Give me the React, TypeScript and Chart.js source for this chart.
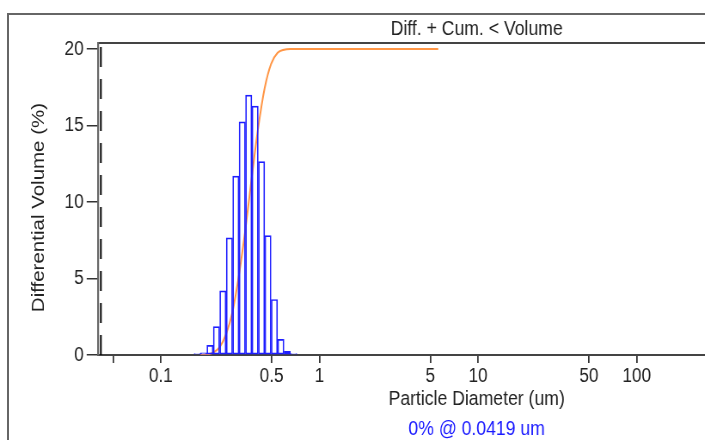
import React, { useEffect, useRef } from "react";
import { Chart, registerables } from "chart.js";

Chart.register(...registerables);

// ---- data ----
// LS channel edges (um) around the peak
const binEdges = [0.162, 0.178, 0.195, 0.214, 0.235, 0.258, 0.284, 0.311, 0.342, 0.375, 0.412, 0.452, 0.496, 0.545, 0.598, 0.657, 0.721];
// differential volume (%) for each channel
const diffVolume = [0, 0.15, 0.63, 1.86, 4.19, 7.66, 11.7, 15.25, 17.0, 16.28, 12.65, 7.81, 3.63, 1.03, 0.24, 0];
// cumulative < volume (%) at channel upper sizes
const cumSizes = [0.178, 0.195, 0.214, 0.235, 0.258, 0.284, 0.311, 0.342, 0.375, 0.412, 0.452, 0.496, 0.545, 0.598, 0.657, 5.611];
const cumVolume = [0, 0.15, 0.8, 2.6, 6.8, 14.5, 26.2, 41.4, 58.4, 74.7, 87.4, 95.2, 98.8, 99.8, 100, 100];

const xTickValues = [0.05, 0.1, 0.5, 1, 5, 10, 50, 100, 500, 1000];
const xTickLabels = ["", "0.1", "0.5", "1", "5", "10", "50", "100", "500", "1000"];
const yTickValues = [0, 5, 10, 15, 20];

const cursorSize = 0.0419;
const cursorText = "0% @ 0.0419 um";

const xMin = 0.04;
const xMax = 2400;
const yMin = 0;
const yMax = 20.4;
const cumMax = 102;

// the reference is horizontally squeezed: draw wide, show narrow
const K = 0.86;
const W = 1012;
const H = 440;
const font = "'Liberation Sans', Arial, sans-serif";

export default function App() {
  const ref = useRef<HTMLCanvasElement>(null);

  useEffect(() => {
    const canvas = ref.current;
    if (!canvas) return;
    const barData = diffVolume.map((v, i) => ({ x: Math.sqrt(binEdges[i] * binEdges[i + 1]), y: v }));
    const cumData = cumSizes.map((x, i) => ({ x, y: cumVolume[i] }));
    const cursorData = [
      { x: cursorSize, y: yMin },
      { x: cursorSize, y: yMax },
    ];

    const padLeft = 39 / K - 12.3;
    const yWidth = 97.7 / K - padLeft;
    const padRight = W - 856 / K;

    const chart = new Chart(canvas, {
      type: "bar",
      data: {
        datasets: [
          {
            type: "bar",
            label: "Diff",
            data: barData as any,
            xAxisID: "x",
            yAxisID: "y",
            borderColor: "#1e1eff",
            borderWidth: 1.05,
            backgroundColor: "rgba(255,255,255,0)",
            borderSkipped: false,
            minBarLength: 1.5,
            categoryPercentage: 1,
            barPercentage: 1,
            order: 0,
          } as any,
          {
            type: "line",
            label: "Cum",
            data: cumData as any,
            xAxisID: "x",
            yAxisID: "yCum",
            borderColor: "rgb(255,150,70)",
            borderWidth: 2,
            pointRadius: 0,
            cubicInterpolationMode: "monotone",
            fill: false,
            order: 1,
          } as any,
          {
            type: "line",
            label: "Cursor",
            data: cursorData as any,
            xAxisID: "x",
            yAxisID: "y",
            borderColor: "#000",
            borderWidth: 2,
            borderDash: [20, 12],
            pointRadius: 0,
            fill: false,
            order: 2,
          } as any,
        ],
      },
      options: {
        animation: false,
        responsive: false,
        devicePixelRatio: 1,
        layout: { padding: { left: padLeft, right: padRight, top: 0, bottom: 0 } },
        plugins: {
          legend: { display: false },
          tooltip: { enabled: false },
          title: { display: false },
        },
        scales: {
          x: {
            type: "logarithmic",
            position: "bottom",
            weight: 0,
            min: xMin,
            max: xMax,
            offset: false,
            afterBuildTicks: (s: any) => {
              s.ticks = xTickValues.map((v) => ({ value: v }));
            },
            ticks: {
              callback: (_v: any, i: number) => xTickLabels[i],
              autoSkip: false,
              maxRotation: 0,
              minRotation: 0,
              padding: 1,
              color: "#222",
              font: { family: font, size: 20 },
            },
            grid: {
              display: true,
              drawOnChartArea: false,
              drawTicks: true,
              tickLength: 8,
              color: "#333",
              lineWidth: 1.75,
              offset: false,
            },
            border: { display: true, color: "#444", width: 2 },
            title: {
              display: true,
              text: "Particle Diameter (um)",
              color: "#222",
              font: { family: font, size: 20.5 },
              padding: { top: 0, bottom: 8.2 },
            },
            afterFit: (s: any) => {
              s.height = 64.5;
            },
          },
          xSub: {
            type: "logarithmic",
            position: "bottom",
            weight: 1,
            min: xMin,
            max: xMax,
            offset: false,
            ticks: { display: false },
            grid: { display: false, drawTicks: false, offset: false },
            border: { display: false },
            title: {
              display: true,
              text: cursorText,
              color: "#1a1aff",
              font: { family: font, size: 20.5, lineHeight: 1 },
              padding: { top: 0, bottom: 0 },
            },
            afterFit: (s: any) => {
              s.height = 20.5;
            },
          },
          xTop: {
            type: "logarithmic",
            position: "top",
            min: xMin,
            max: xMax,
            offset: false,
            ticks: { display: false },
            grid: { display: false, drawTicks: false, offset: false },
            border: { display: true, color: "#444", width: 2 },
            title: {
              display: true,
              text: "Diff. + Cum. < Volume",
              color: "#222",
              font: { family: font, size: 20.5 },
              padding: { top: 16.7, bottom: 0 },
            },
            afterFit: (s: any) => {
              s.height = 43;
            },
          },
          y: {
            type: "linear",
            position: "left",
            min: yMin,
            max: yMax,
            afterBuildTicks: (s: any) => {
              s.ticks = yTickValues.map((v) => ({ value: v }));
            },
            ticks: {
              callback: (v: any) => String(v),
              padding: 3 / K,
              color: "#222",
              font: { family: font, size: 20 },
            },
            grid: {
              display: true,
              drawOnChartArea: false,
              drawTicks: true,
              tickLength: 11 / K,
              color: "#333",
              lineWidth: 1.5,
            },
            border: { display: true, color: "#666", width: 2.2 },
            title: {
              display: true,
              text: "Differential Volume (%)   ",
              color: "#222",
              font: { family: font, size: 20.5 },
              padding: { top: 0, bottom: 0 },
            },
            afterFit: (s: any) => {
              s.width = yWidth;
            },
          },
          yCum: {
            type: "linear",
            display: false,
            min: 0,
            max: cumMax,
          },
        },
      } as any,
    });
    return () => chart.destroy();
  }, []);

  return (
    <div
      style={{
        position: "fixed",
        left: 0,
        top: 0,
        width: 705,
        height: 440,
        overflow: "hidden",
        background: "#fff",
      }}
    >
      <div
        style={{
          position: "absolute",
          left: 7,
          top: 13,
          width: 1000,
          height: 1000,
          borderLeft: "2px solid #666",
          borderTop: "2px solid #666",
          boxSizing: "border-box",
        }}
      />
      <canvas
        ref={ref}
        width={W}
        height={H}
        style={{ position: "absolute", left: 0, top: 0, width: `${W * K}px`, height: `${H}px` }}
      />
    </div>
  );
}
